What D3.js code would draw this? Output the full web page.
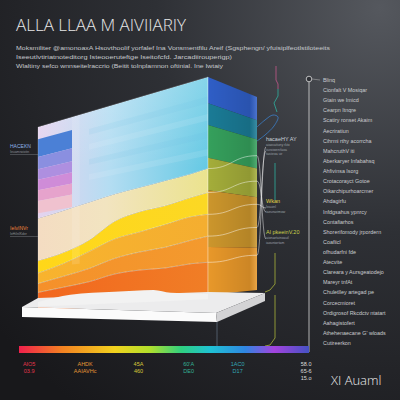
<!DOCTYPE html>
<html>
<head>
<meta charset="utf-8">
<script src="https://cdn.jsdelivr.net/npm/d3@7"></script>
<style>
  html, body { margin: 0; padding: 0; background: #1c1d20; }
  svg { display: block; }
</style>
</head>
<body>
<svg id="chart" width="400" height="400"></svg>
<script>
// ---- data ----
const titleText = 'ALLA LLAA M AIVIIARIY';
const subtitleLines = [
    'Moksmiliter @amonoaxA Hsovthoolif yorfalef Ina Vonsmentfilu Areif (Sgsphengn/ yfuisiplfeotlstiloteeits',
    'Iseeutlvtiriatnoteditorg Isteooeruteftge Iseitofcfd. Jarcadiirouperigp)',
    'Wlaltiny sefco wnnseitelraccrio (Beitit tolnplamnon oftinial. Ine Iwtaiy'
];

// stacked bands across the front face (u = 0..1 left to right, values in % of face height)
const uPoints    = [0, 0.15, 0.3, 0.45, 0.6, 0.75, 0.9, 1];
const deepOrange = [6, 8, 10, 13, 14, 14, 15, 15];
const orange     = [5, 6, 7, 8, 9, 10, 11, 12];
const amber      = [6, 7, 9, 10, 10, 11, 11, 10];
const yellow     = [7, 6, 6, 9, 10, 9, 9, 10];
const paleYellow = [24, 23, 20, 14, 12, 12, 11, 11];
const sky        = [52, 50, 48, 46, 45, 44, 43, 42];
const bandKeys   = ['deepOrange', 'orange', 'amber', 'yellow', 'paleYellow', 'sky'];
const bandLeft   = ['#f2661e', '#f5902a', '#f8b32e', '#ffd719', '#f4dcc2', '#e6d3ef'];
const bandRight  = ['#f07e26', '#f39a2e', '#f4ae30', '#fcd824', '#ebe38e', '#64c9e4'];

// faint stripes inside the sky band
const skyStripes = [91, 83, 75, 67];

// small legend inset on the left of the face
const insetStops  = [93, 83, 76, 70, 64, 58, 51];
const insetColors = ['#4b80d6', '#8a8fe0', '#ae8fe0', '#cf8cd8', '#e6a3cc', '#f0c2cf'];

// side face stripes (top value of each stripe)
const sideTops   = [100, 88, 78, 63, 48, 22];
const sideColors = ['#2f5ec6', '#1a7b96', '#35a05c', '#a4ad3a', '#cc962c', '#e8982a'];

// white ridge on the base
const ridgeU = [0, 0.1, 0.19, 0.45, 0.68, 0.78, 1];
const ridgeV = [0.5, 2.5, 3.6, 3.9, 3.7, 1.9, 0.5];

// callouts at the right of the box
const annoLabels = ['hacaeHY AY', 'Wkan', 'Al pkeeinV.20'];
const annoSub    = [['aiaocatiuny rkto', 'iiuroiwenrlaoa', 'tasiieoa uir'], ['Ieauinl', 'iaeunarimow'], ['aionaetuinoauil', 'iaouniwrtam']];
const annoColors = ['#c9d1da', '#e2d448', '#c9d24a'];
const annoY      = [141, 203, 234];
const lineTargets = [147, 151, 208, 212, 239];

// left labels
const leftLabels = ['HACEKN', 'IeIvINVr'];
const leftSub    = ['Ieuamrwiotin', 'IeHiInIKder'];
const leftColors = ['#8db3e6', '#f0843c'];
const leftY      = [148, 230];

// list on the right timeline
const listLabels = [
    'Blinq', 'Cionfalt V Mosiqar', 'Gtain we Imicd', 'Cearpn Itnqre', 'Scatiry ronset Akaim',
    'Aecriratiun', 'Cihrmi rthy acorrcha', 'MahcruthV iti', 'Aberkaryer Infabahsq', 'Ahfivinsa Isorg',
    'Crotacorayct Gotoe', 'Oikarchipurhoarcmer', 'Ahdagirfu', 'Infdgsahus ypnrcy', 'Contafiarhos',
    'Shorerifomody jrpordern', 'Coafiicl', 'ofhudarfni fde', 'Atecvite', 'Clareara y Aursgeatodejo',
    'Mareyr tnfAt', 'Chuletlley artegad pe', 'Corcecmioret', 'Ordigrosof Rkcdctv ntatart',
    'Aahagistofert', 'Athehenaecane G\' wloads', 'Cutireerkon'
];

// bottom spectrum
const spectrumStops  = [0, 0.15, 0.33, 0.45, 0.56, 0.66, 0.78, 0.88, 1];
const spectrumColors = ['#f0204c', '#f38222', '#f2d21e', '#b2e02c', '#2fd080', '#1fc2d4', '#2f86e2', '#a443de', '#4552c4'];
const scaleLabelsTop = ['AIO5', 'AHDK', '45A', '60\'A', '1AC0', '58.0'];
const scaleLabelsBot = ['03.9', 'AAIAVHc', '460', 'DE0', 'D17', '65-6'];
const scaleLabelsExtra = ['', '', '', '', '', '15.o'];
const scalePos       = [0.035, 0.228, 0.412, 0.585, 0.754, 0.99];
const scaleColors    = ['#e0364c', '#e39535', '#d9c93a', '#34b294', '#34a6b6', '#dddddd'];

const footerText = 'XI Auaml';

// ---- drawing ----
const svg = d3.select('#chart');
const defs = svg.append('defs');

// background
const bg = defs.append('radialGradient').attr('id', 'bgGrad')
    .attr('cx', '0.95').attr('cy', '0.02').attr('r', '1.25');
bg.append('stop').attr('offset', '0').attr('stop-color', '#55585e');
bg.append('stop').attr('offset', '0.45').attr('stop-color', '#2e3035');
bg.append('stop').attr('offset', '1').attr('stop-color', '#18181b');
svg.append('rect').attr('width', 400).attr('height', 400).attr('fill', 'url(#bgGrad)');

// title + subtitle
svg.append('text')
    .attr('x', 16).attr('y', 31)
    .attr('textLength', 170).attr('lengthAdjust', 'spacingAndGlyphs')
    .style('font-family', '"Open Sans", "DejaVu Sans", sans-serif')
    .style('font-weight', 300)
    .style('font-size', '16px')
    .style('fill', '#e8e8e8')
    .text(titleText);

const subWidths = [314, 216, 207];
subtitleLines.forEach((line, i) => {
    svg.append('text')
        .attr('x', 16).attr('y', 50 + i * 9.2)
        .attr('textLength', subWidths[i]).attr('lengthAdjust', 'spacingAndGlyphs')
        .style('font-family', '"Liberation Sans", Arial, sans-serif')
        .style('font-size', '6px')
        .style('fill', '#c6c9cd')
        .text(line);
});

// front face mapping
const faceX = d3.scaleLinear().domain([0, 1]).range([38, 208]);
const faceTop = d3.scaleLinear().domain([0, 1]).range([127, 77]);
const faceBot = d3.scaleLinear().domain([0, 1]).range([303, 295]);
const faceY = (u, v) => faceBot(u) + (faceTop(u) - faceBot(u)) * v / 100;

// side face mapping
const sideX = d3.scaleLinear().domain([0, 1]).range([208, 257]);
const sideTop = d3.scaleLinear().domain([0, 1]).range([77, 97]);
const sideBot = d3.scaleLinear().domain([0, 1]).range([295, 290]);
const sideY = (w, v) => sideBot(w) + (sideTop(w) - sideBot(w)) * v / 100;

const quad = (fx, fy, a, b, v0, v1) =>
    `M${fx(a)},${fy(a, v1)}L${fx(b)},${fy(b, v1)}L${fx(b)},${fy(b, v0)}L${fx(a)},${fy(a, v0)}Z`;

defs.append('clipPath').attr('id', 'faceClip')
    .append('path').attr('d', quad(faceX, faceY, 0, 1, -4, 100));

// band gradients
bandKeys.forEach((k, i) => {
    const g = defs.append('linearGradient').attr('id', `grad-${k}`)
        .attr('gradientUnits', 'userSpaceOnUse')
        .attr('x1', faceX(0)).attr('x2', faceX(1)).attr('y1', 0).attr('y2', 0);
    g.append('stop').attr('offset', '0').attr('stop-color', bandLeft[i]);
    if (k === 'sky') g.append('stop').attr('offset', '0.42').attr('stop-color', '#b4ddf2');
    if (k === 'paleYellow') g.append('stop').attr('offset', '0.4').attr('stop-color', '#f2e4c0');
    g.append('stop').attr('offset', '1').attr('stop-color', bandRight[i]);
});

const rows = uPoints.map((u, i) => ({
    u,
    deepOrange: deepOrange[i], orange: orange[i], amber: amber[i],
    yellow: yellow[i], paleYellow: paleYellow[i], sky: sky[i]
}));
const stacked = d3.stack().keys(bandKeys)(rows);

const area = d3.area()
    .x(d => faceX(d.data.u))
    .y0(d => faceY(d.data.u, d[0] === 0 ? -4 : d[0]))
    .y1(d => faceY(d.data.u, d[1]))
    .curve(d3.curveMonotoneX);

const face = svg.append('g').attr('clip-path', 'url(#faceClip)');
face.selectAll('path.band')
    .data(stacked)
    .enter()
    .append('path')
    .attr('class', 'band')
    .attr('d', area)
    .attr('fill', d => `url(#grad-${d.key})`);

// lighter top of the sky band
const skyLight = defs.append('linearGradient').attr('id', 'skyLight')
    .attr('gradientUnits', 'userSpaceOnUse')
    .attr('x1', 0).attr('x2', 0).attr('y1', faceTop(1)).attr('y2', faceY(1, 58));
skyLight.append('stop').attr('offset', '0').attr('stop-color', '#ffffff').attr('stop-opacity', 0.22);
skyLight.append('stop').attr('offset', '1').attr('stop-color', '#ffffff').attr('stop-opacity', 0);
face.append('path').datum(stacked[5]).attr('d', area).attr('fill', 'url(#skyLight)');

// faint horizontal stripes in the sky band
skyStripes.forEach((v, i) => {
    face.append('path')
        .attr('d', quad(faceX, faceY, 0.3, 1, v - 3, v))
        .attr('fill', i % 2 ? '#ffffff' : '#5fb8e0')
        .attr('opacity', 0.1);
});

// lighter vertical strip next to the inset
face.append('path').attr('d', quad(faceX, faceY, 0.2, 0.245, 20, 100))
    .attr('fill', '#ffffff').attr('opacity', 0.12);

// inset stripes
insetColors.forEach((c, i) => {
    face.append('path')
        .attr('d', quad(faceX, faceY, 0, 0.2, insetStops[i + 1], insetStops[i]))
        .attr('fill', c);
});

// boundary lines on the front face
const boundaryLine = d3.line()
    .x(d => faceX(d.data.u))
    .y(d => faceY(d.data.u, d[1]))
    .curve(d3.curveMonotoneX);
face.selectAll('path.boundary')
    .data(stacked.slice(0, 5))
    .enter()
    .append('path')
    .attr('class', 'boundary')
    .attr('d', boundaryLine)
    .attr('fill', 'none')
    .attr('stroke', '#ffffff')
    .attr('stroke-opacity', 0.5)
    .attr('stroke-width', 0.8);

// face outline
svg.append('path').attr('d', quad(faceX, faceY, 0, 1, 0, 100))
    .attr('fill', 'none').attr('stroke', '#ffffff').attr('stroke-opacity', 0.3).attr('stroke-width', 0.7);

// side face
const side = svg.append('g');
sideColors.forEach((c, i) => {
    const v1 = sideTops[i];
    const v0 = i + 1 < sideTops.length ? sideTops[i + 1] : 0;
    side.append('path').attr('d', quad(sideX, sideY, 0, 1, v0, v1)).attr('fill', c);
});
const shade = defs.append('linearGradient').attr('id', 'sideShade')
    .attr('gradientUnits', 'userSpaceOnUse')
    .attr('x1', sideX(0)).attr('x2', sideX(1)).attr('y1', 0).attr('y2', 0);
shade.append('stop').attr('offset', '0').attr('stop-color', '#000').attr('stop-opacity', 0.0);
shade.append('stop').attr('offset', '0.85').attr('stop-color', '#000').attr('stop-opacity', 0.12);
shade.append('stop').attr('offset', '1').attr('stop-color', '#fff').attr('stop-opacity', 0.14);
side.append('path').attr('d', quad(sideX, sideY, 0, 1, 0, 100)).attr('fill', 'url(#sideShade)');
side.append('line')
    .attr('x1', sideX(0)).attr('y1', sideY(0, 100)).attr('x2', sideX(0)).attr('y2', sideY(0, 0))
    .attr('stroke', '#ffffff').attr('stroke-opacity', 0.45).attr('stroke-width', 0.8);

// boundary lines continue across the side face and out to the callouts
const leader = d3.line().curve(d3.curveBumpX);
stacked.slice(0, 5).forEach((s, i) => {
    const v = s[s.length - 1][1];
    const yEnd = sideY(1, v * 1.2);
    svg.append('path')
        .attr('d', leader([
            [sideX(0), sideY(0, v)],
            [sideX(1), yEnd],
            [sideX(1) + 9, lineTargets[i]]
        ]))
        .attr('fill', 'none')
        .attr('stroke', '#ffffff')
        .attr('stroke-opacity', 0.65)
        .attr('stroke-width', 0.7);
});

// base slab
const slabL = 22, slabFR = 216, slabR = 265;
svg.append('path')
    .attr('d', `M${slabL},307L${slabFR},313L${slabR},293L${faceX(1)},292L${faceX(0)},298Z`)
    .attr('fill', '#ececed');
const ridge = d3.area()
    .x((d, i) => faceX(ridgeU[i]))
    .y0((d, i) => faceY(ridgeU[i], -2))
    .y1((d, i) => faceY(ridgeU[i], d))
    .curve(d3.curveMonotoneX);
svg.append('path').datum(ridgeV).attr('d', ridge).attr('fill', '#f2f2f2');
svg.append('path')
    .attr('d', `M${slabL},307L${slabFR},313L${slabFR + 1},322L${slabL},317Z`)
    .attr('fill', '#fbfbfb');
svg.append('path')
    .attr('d', `M${slabFR},313L${slabR},293L${slabR},301L${slabFR + 1},322Z`)
    .attr('fill', '#d3d3d5');

// thin line below slab
svg.append('line').attr('x1', 217).attr('x2', 217).attr('y1', 322).attr('y2', 346)
    .attr('stroke', '#6f8296').attr('stroke-width', 0.6);

// decorative guides next to the side face
const guide = d3.line().curve(d3.curveLinear);
const gx = sideX(1);
svg.append('path').attr('d', guide([[gx + 19, 66], [gx + 19, 80], [gx + 21, 84], [gx + 21, 89]]))
    .attr('fill', 'none').attr('stroke', '#c4588c').attr('stroke-width', 0.8);
svg.append('path').attr('d', guide([[gx + 21, 89], [gx + 21, 96], [gx + 17, 103], [gx + 20, 112]]))
    .attr('fill', 'none').attr('stroke', '#2fb0a0').attr('stroke-width', 0.8);
svg.append('path').attr('d', d3.line().curve(d3.curveCatmullRom)([
    [gx, 127], [gx + 8, 120], [gx + 16, 115], [gx + 21, 117], [gx + 17, 126], [gx + 8, 135], [gx, 141]]))
    .attr('fill', 'none').attr('stroke', '#3b7fc9').attr('stroke-width', 0.8);
svg.append('line').attr('x1', gx + 18).attr('x2', gx + 18).attr('y1', 163).attr('y2', 200)
    .attr('stroke', '#2fb0a0').attr('stroke-width', 0.8);
svg.append('path').attr('d', guide([[gx + 18, 253], [gx + 18, 284], [gx + 13, 290], [gx + 8, 292]]))
    .attr('fill', 'none').attr('stroke', '#a9b43a').attr('stroke-width', 0.8);
svg.append('path').attr('d', guide([[gx + 18, 295], [gx + 18, 338], [gx + 13, 345], [gx + 8, 346]]))
    .attr('fill', 'none').attr('stroke', '#a9b43a').attr('stroke-width', 0.8);

// callout labels
annoLabels.forEach((t, i) => {
    svg.append('text')
        .attr('x', 266).attr('y', annoY[i])
        .style('font-family', '"Liberation Sans", Arial, sans-serif')
        .style('font-size', '5.5px')
        .style('fill', annoColors[i])
        .text(t);
    annoSub[i].forEach((s, j) => {
        svg.append('text')
            .attr('x', 266).attr('y', annoY[i] + 5 + j * 4.5)
            .style('font-family', '"Liberation Sans", Arial, sans-serif')
            .style('font-size', '3.4px')
            .style('fill', '#9aa0a6')
            .text(s);
    });
});

// left labels
leftLabels.forEach((t, i) => {
    svg.append('text')
        .attr('x', 10).attr('y', leftY[i])
        .style('font-family', '"Liberation Sans", Arial, sans-serif')
        .style('font-size', '5px')
        .style('fill', leftColors[i])
        .text(t);
    svg.append('text')
        .attr('x', 10).attr('y', leftY[i] + 5)
        .style('font-family', '"Liberation Sans", Arial, sans-serif')
        .style('font-size', '3.4px')
        .style('fill', '#8a8f95')
        .text(leftSub[i]);
    svg.append('line')
        .attr('x1', 10).attr('x2', faceX(0)).attr('y1', leftY[i] + 6.5).attr('y2', leftY[i] + 6.5)
        .attr('stroke', '#8a8f95').attr('stroke-width', 0.4);
});

// right timeline + list
const listY = d3.scalePoint().domain(listLabels.map((d, i) => i)).range([80, 343]);
svg.append('line').attr('x1', 309).attr('x2', 309).attr('y1', 82).attr('y2', 352)
    .attr('stroke', '#d8d8d8').attr('stroke-width', 0.8);
svg.append('circle').attr('cx', 309).attr('cy', 79).attr('r', 2.8)
    .attr('fill', '#2f3136').attr('stroke', '#dddddd').attr('stroke-width', 0.8);
svg.append('line').attr('x1', 312).attr('x2', 320).attr('y1', 79).attr('y2', 80)
    .attr('stroke', '#bbbbbb').attr('stroke-width', 0.5);
svg.selectAll('text.item')
    .data(listLabels)
    .enter()
    .append('text')
    .attr('class', 'item')
    .attr('x', 323)
    .attr('y', (d, i) => listY(i) + 2)
    .style('font-family', '"Liberation Sans", Arial, sans-serif')
    .style('font-size', '5.4px')
    .style('fill', '#c9cbce')
    .text(d => d);

// spectrum bar
const specX = d3.scaleLinear().domain([0, 1]).range([19, 309]);
const spec = defs.append('linearGradient').attr('id', 'specGrad');
spectrumStops.forEach((s, i) => {
    spec.append('stop').attr('offset', s).attr('stop-color', spectrumColors[i]);
});
svg.append('rect')
    .attr('x', specX(0)).attr('y', 346)
    .attr('width', specX(1) - specX(0)).attr('height', 7)
    .attr('fill', 'url(#specGrad)');

scaleLabelsTop.forEach((t, i) => {
    const g = svg.append('text')
        .attr('x', specX(scalePos[i]))
        .attr('text-anchor', 'middle')
        .style('font-family', '"Liberation Sans", Arial, sans-serif')
        .style('font-size', '5.5px')
        .style('fill', scaleColors[i]);
    [t, scaleLabelsBot[i], scaleLabelsExtra[i]].filter(d => d).forEach((line, j) => {
        g.append('tspan').attr('x', specX(scalePos[i])).attr('y', 365.5 + j * 7).text(line);
    });
});

// footer
svg.append('text')
    .attr('x', 331).attr('y', 385)
    .style('font-family', '"Open Sans", "DejaVu Sans", sans-serif')
    .style('font-weight', 300)
    .style('font-size', '13px')
    .style('fill', '#ececec')
    .text(footerText);
</script>
</body>
</html>
